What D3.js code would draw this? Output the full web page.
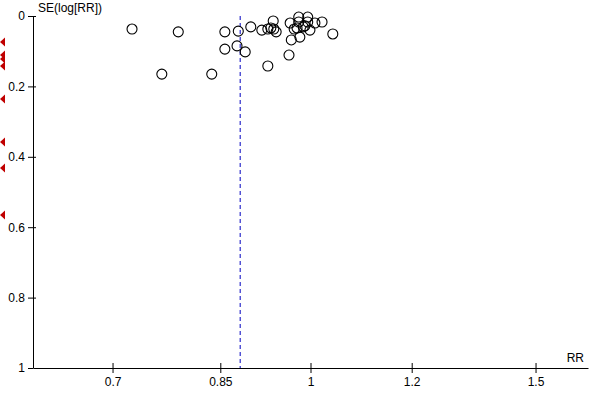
<!DOCTYPE html>
<html>
<head>
<meta charset="utf-8">
<script src="https://cdn.jsdelivr.net/npm/d3@7"></script>
<style>
html,body{margin:0;padding:0;background:#fff;}
svg{display:block;font-family:"Liberation Sans",Arial,sans-serif;}
</style>
</head>
<body>
<svg id="chart" width="600" height="400"></svg>
<script>
// Study estimates (risk ratio and standard error of log RR)
const studyRR = [0.725,0.788,0.765,0.837,0.857,0.878,0.857,0.876,0.889,0.898,0.916,0.926,0.935,0.931,0.936,0.940,0.926,0.964,0.971,0.966,0.962,0.979,0.995,0.979,0.995,0.976,0.999,0.987,1.008,1.021,1.041,0.981,0.990];
const studySE = [0.037,0.045,0.165,0.165,0.045,0.043,0.094,0.085,0.102,0.031,0.040,0.142,0.014,0.034,0.037,0.045,0.037,0.020,0.037,0.068,0.111,0.003,0.003,0.017,0.017,0.034,0.040,0.031,0.020,0.017,0.051,0.060,0.028];
// Studies beyond the left edge of the RR axis (SE only)
const offLeftSE = [0.074,0.111,0.122,0.142,0.236,0.358,0.432,0.565];
const pooledRR = 0.881;
const xTicks = [0.7,0.85,1,1.2,1.5];
const yTicks = [0,0.2,0.4,0.6,0.8,1];

const svg = d3.select("#chart");
const x = d3.scaleLog().domain([Math.exp(-0.5), Math.exp(0.5)]).range([33, 588]);
const y = d3.scaleLinear().domain([0, 1]).range([16, 368]);

// Y axis
const gy = svg.append("g").attr("transform", `translate(${x.range()[0]},0)`)
  .call(d3.axisLeft(y).tickValues(yTicks).tickFormat(d => String(d)).tickSize(5).tickSizeOuter(0).tickPadding(3));
gy.selectAll(".tick").filter(d => d !== 1).append("line").attr("x2", 3).attr("stroke", "#000");
gy.selectAll("text").attr("font-size", 12).attr("fill", "#000").attr("font-family", "Liberation Sans, Arial, sans-serif");
gy.selectAll("line,path").attr("stroke", "#000");

// X axis
const gx = svg.append("g").attr("transform", `translate(0,${y.range()[1]})`)
  .call(d3.axisBottom(x).tickValues(xTicks).tickFormat(d => String(d)).tickSize(5).tickSizeOuter(0).tickPadding(4));
gx.selectAll(".tick").append("line").attr("y2", -5).attr("stroke", "#000");
gx.selectAll("text").attr("font-size", 12).attr("fill", "#000").attr("font-family", "Liberation Sans, Arial, sans-serif");
gx.selectAll("line,path").attr("stroke", "#000");

// Axis titles
svg.append("text").attr("x", x.range()[0] + 5).attr("y", 12).attr("font-size", 12).text("SE(log[RR])");
svg.append("text").attr("x", x.range()[1] - 4).attr("y", y.range()[1] - 6).attr("font-size", 12).attr("text-anchor", "end").text("RR");

// Pooled estimate line
svg.append("line")
  .attr("x1", x(pooledRR)).attr("x2", x(pooledRR))
  .attr("y1", y(0)).attr("y2", y(1))
  .attr("stroke", "#0000c0").attr("stroke-width", 1).attr("stroke-dasharray", "4,3");

// Study points
svg.append("g").selectAll("circle")
  .data(studyRR.map((r, i) => ({rr: r, se: studySE[i]})))
  .join("circle")
  .attr("cx", d => x(d.rr)).attr("cy", d => y(d.se)).attr("r", 5)
  .attr("fill", "none").attr("stroke", "#000").attr("stroke-width", 1.1);

// Off-scale markers (left)
const tri = d3.line()([[0,0],[5,-4.5],[5,4.5]]) + "Z";
svg.append("g").selectAll("path")
  .data(offLeftSE)
  .join("path")
  .attr("d", tri)
  .attr("transform", d => `translate(0,${y(d)})`)
  .attr("fill", "#c00000");
</script>
</body>
</html>
